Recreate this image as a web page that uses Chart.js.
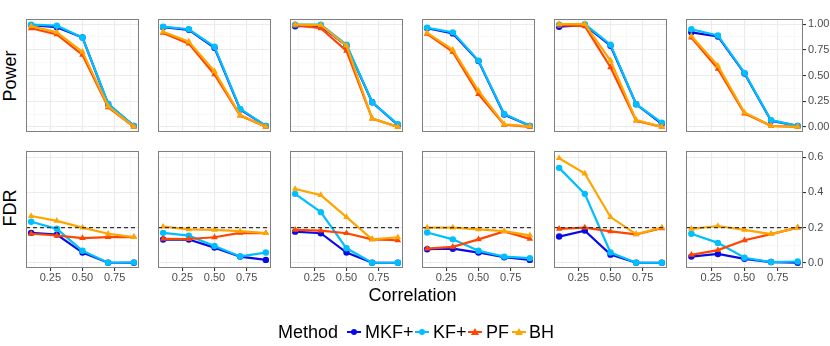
<!DOCTYPE html>
<html>
<head>
<meta charset="utf-8">
<script src="https://cdn.jsdelivr.net/npm/chart.js@4/dist/chart.umd.min.js"></script>
<style>
  body { margin: 0; background: #fff; font-family: "Liberation Sans", Arial, sans-serif; }
  #wrap { position: relative; width: 830px; height: 346px; overflow: hidden; background: #fff; }
  #wrap canvas { position: absolute; }
  .txt { position: absolute; color: #000; font-size: 18px; line-height: 20px; white-space: nowrap; }
  .key { position: absolute; width: 14px; height: 20px; }
  .key .ln { position: absolute; left: 0; top: 9px; width: 14px; height: 2px; }
  .key .dot { position: absolute; left: 4px; top: 7px; width: 6px; height: 6px; border-radius: 50%; }
  .key .tri { position: absolute; left: 3px; top: 6px; width: 0; height: 0;
              border-left: 4px solid transparent; border-right: 4px solid transparent; border-bottom: 7px solid; }
</style>
</head>
<body>
<div id="wrap"></div>
<script>
// x values (correlation) shared by all panels
const corr = [0.1, 0.3, 0.5, 0.7, 0.9];
const methods = ['MKF+', 'KF+', 'PF', 'BH'];
const methodColors = ['#0A0AE6', '#00BFFF', '#FF4500', '#FFA500'];
const methodShapes = ['circle', 'circle', 'triangle', 'triangle'];

// Power, one row per panel (6 panels), one value per correlation
const powerMKF = [
  [0.99, 0.97, 0.87, 0.22, 0.01],
  [0.97, 0.945, 0.77, 0.17, 0.01],
  [0.98, 0.98, 0.79, 0.24, 0.02],
  [0.96, 0.91, 0.64, 0.12, 0.01],
  [0.975, 0.99, 0.79, 0.22, 0.03],
  [0.92, 0.88, 0.52, 0.06, 0.01]
];
const powerKF = [
  [0.995, 0.985, 0.87, 0.225, 0.01],
  [0.975, 0.95, 0.78, 0.175, 0.01],
  [0.995, 0.995, 0.80, 0.24, 0.025],
  [0.965, 0.92, 0.645, 0.125, 0.01],
  [0.995, 1.0, 0.80, 0.22, 0.04],
  [0.95, 0.89, 0.525, 0.065, 0.01]
];
const powerPF = [
  [0.96, 0.90, 0.70, 0.19, 0.0],
  [0.915, 0.81, 0.51, 0.11, 0.0],
  [0.99, 0.96, 0.74, 0.08, 0.0],
  [0.905, 0.73, 0.32, 0.02, 0.0],
  [0.99, 0.98, 0.58, 0.06, 0.0],
  [0.87, 0.565, 0.13, 0.01, 0.0]
];
const powerBH = [
  [0.98, 0.92, 0.73, 0.20, 0.0],
  [0.925, 0.83, 0.54, 0.115, 0.0],
  [0.995, 0.99, 0.79, 0.08, 0.0],
  [0.915, 0.75, 0.35, 0.025, 0.005],
  [1.0, 1.0, 0.645, 0.065, 0.0],
  [0.885, 0.595, 0.14, 0.01, 0.0]
];

// FDR
const fdrMKF = [
  [0.17, 0.16, 0.058, 0.0, 0.0],
  [0.132, 0.132, 0.086, 0.035, 0.016],
  [0.177, 0.168, 0.058, 0.0, 0.0],
  [0.077, 0.08, 0.058, 0.031, 0.016],
  [0.149, 0.183, 0.046, 0.0, 0.0],
  [0.035, 0.05, 0.022, 0.004, 0.0]
];
const fdrKF = [
  [0.233, 0.193, 0.068, 0.0, 0.002],
  [0.17, 0.154, 0.095, 0.036, 0.058],
  [0.392, 0.288, 0.082, 0.0, 0.0],
  [0.172, 0.133, 0.068, 0.035, 0.026],
  [0.54, 0.392, 0.058, 0.0, 0.0],
  [0.165, 0.113, 0.028, 0.004, 0.007]
];
const fdrPF = [
  [0.165, 0.155, 0.14, 0.146, 0.146],
  [0.136, 0.135, 0.145, 0.17, 0.168],
  [0.187, 0.183, 0.168, 0.133, 0.128],
  [0.08, 0.09, 0.133, 0.178, 0.136],
  [0.193, 0.20, 0.178, 0.161, 0.196],
  [0.045, 0.072, 0.128, 0.163, 0.20]
];
const fdrBH = [
  [0.266, 0.238, 0.20, 0.165, 0.146],
  [0.205, 0.19, 0.187, 0.18, 0.168],
  [0.42, 0.385, 0.26, 0.133, 0.145],
  [0.20, 0.20, 0.19, 0.18, 0.156],
  [0.595, 0.508, 0.26, 0.163, 0.20],
  [0.193, 0.209, 0.187, 0.163, 0.20]
];
const fdrTarget = 0.2;

// axis breaks
const xMajor = [0.25, 0.5, 0.75];
const xMinor = [0.125, 0.375, 0.625, 0.875];
const powerMajor = [0, 0.25, 0.5, 0.75, 1];
const powerMinor = [0.125, 0.375, 0.625, 0.875];
const fdrMajor = [0, 0.2, 0.4, 0.6];
const fdrMinor = [0.1, 0.3, 0.5];

// layout of the 2x6 facet grid
const colLeft = [22, 154, 286, 418, 550, 682];
const rowTop = [15, 147];
const panelSize = 121;
const xAxisH = 20;
const yAxisW = 30;
const FONT = '"Liberation Sans", Arial, sans-serif';

const wrap = document.getElementById('wrap');

const panelFrame = {
  id: 'panelFrame',
  afterDraw(chart) {
    const { ctx, chartArea: a } = chart;
    ctx.save();
    ctx.strokeStyle = '#7F7F7F';
    ctx.lineWidth = 1;
    ctx.strokeRect(a.left + 0.5, a.top + 0.5, a.width - 1, a.height - 1);
    ctx.restore();
  }
};

function gridOpts(major, showTicks) {
  const isMajor = v => major.includes(v);
  return {
    color: c => isMajor(c.tick.value) ? '#EBEBEB' : '#F4F4F4',
    lineWidth: c => isMajor(c.tick.value) ? 1.1 : 0.6,
    drawTicks: showTicks,
    tickLength: 3,
    tickColor: c => isMajor(c.tick.value) ? '#333333' : 'rgba(0,0,0,0)'
  };
}

function makePanel(row, col) {
  const bottom = row === 1;
  const right = col === 5;
  const canvas = document.createElement('canvas');
  canvas.width = panelSize + (right ? yAxisW : 0);
  canvas.height = panelSize + (bottom ? xAxisH : 0);
  canvas.style.left = colLeft[col] + 'px';
  canvas.style.top = rowTop[row] + 'px';
  wrap.appendChild(canvas);

  const series = row === 0
    ? [powerMKF, powerKF, powerPF, powerBH]
    : [fdrMKF, fdrKF, fdrPF, fdrBH];
  const yMajor = row === 0 ? powerMajor : fdrMajor;
  const yMinor = row === 0 ? powerMinor : fdrMinor;
  const yAll = [...yMajor, ...yMinor].sort((a, b) => a - b);
  const xAll = [...xMajor, ...xMinor].sort((a, b) => a - b);

  const datasets = methods.map((m, k) => ({
    label: m,
    data: corr.map((x, i) => ({ x: x, y: series[k][col][i] })),
    borderColor: methodColors[k],
    backgroundColor: methodColors[k],
    borderWidth: 2.2,
    pointStyle: methodShapes[k],
    pointRadius: methodShapes[k] === 'circle' ? 3.2 : 3.8,
    pointBorderWidth: 0,
    tension: 0,
    order: 4 - k
  }));
  if (row === 1) {
    datasets.push({
      label: 'target',
      data: [{ x: 0.06, y: fdrTarget }, { x: 0.94, y: fdrTarget }],
      borderColor: '#333333',
      borderWidth: 1.3,
      borderDash: [4, 3],
      pointRadius: 0,
      order: 0
    });
  }

  new Chart(canvas, {
    type: 'line',
    data: { datasets },
    options: {
      responsive: false,
      animation: false,
      events: [],
      layout: { padding: 0 },
      plugins: { legend: { display: false }, tooltip: { enabled: false } },
      scales: {
        x: {
          type: 'linear',
          min: 0.06,
          max: 0.94,
          afterBuildTicks: s => { s.ticks = xAll.map(v => ({ value: v })); },
          afterFit: s => {
            s.height = bottom ? xAxisH : 0;
            s.paddingLeft = 0; s.paddingRight = 0;
          },
          border: { display: false },
          grid: gridOpts(xMajor, bottom),
          ticks: {
            display: bottom,
            autoSkip: false,
            maxRotation: 0,
            minRotation: 0,
            padding: 0,
            color: '#4D4D4D',
            font: { size: 11, family: FONT },
            callback: v => xMajor.includes(v) ? v.toFixed(2) : ''
          }
        },
        y: {
          type: 'linear',
          position: 'right',
          min: row === 0 ? -0.05 : -0.03,
          max: row === 0 ? 1.05 : 0.636,
          afterBuildTicks: s => { s.ticks = yAll.map(v => ({ value: v })); },
          afterFit: s => {
            s.width = right ? yAxisW : 0;
            s.paddingTop = 0; s.paddingBottom = 0;
          },
          border: { display: false },
          grid: gridOpts(yMajor, right),
          ticks: {
            display: right,
            autoSkip: false,
            padding: 2,
            color: '#4D4D4D',
            font: { size: 11, family: FONT },
            callback: v => yMajor.includes(v) ? v.toFixed(row === 0 ? 2 : 1) : ''
          }
        }
      }
    },
    plugins: [panelFrame]
  });
}

for (let r = 0; r < 2; r++) {
  for (let c = 0; c < 6; c++) makePanel(r, c);
}

// titles and legend as plain text
function addText(text, left, top, extra) {
  const d = document.createElement('div');
  d.className = 'txt';
  d.textContent = text;
  d.style.left = left + 'px';
  d.style.top = top + 'px';
  if (extra) Object.assign(d.style, extra);
  wrap.appendChild(d);
  return d;
}

addText('Power', 10, 75.5, { transform: 'translate(-50%, -50%) rotate(-90deg)' });
addText('FDR', 10, 207.5, { transform: 'translate(-50%, -50%) rotate(-90deg)' });
addText('Correlation', 412.5, 295, { transform: 'translate(-50%, -50%)' });

addText('Method', 278, 322);
const keyLeft = [347, 415, 468, 512];
const labelLeft = [365, 433, 486, 529];
methods.forEach((m, k) => {
  const key = document.createElement('div');
  key.className = 'key';
  key.style.left = keyLeft[k] + 'px';
  key.style.top = '322px';
  const ln = document.createElement('div');
  ln.className = 'ln';
  ln.style.background = methodColors[k];
  key.appendChild(ln);
  const pt = document.createElement('div');
  if (methodShapes[k] === 'circle') {
    pt.className = 'dot';
    pt.style.background = methodColors[k];
  } else {
    pt.className = 'tri';
    pt.style.borderBottomColor = methodColors[k];
  }
  key.appendChild(pt);
  wrap.appendChild(key);
  addText(m, labelLeft[k], 322);
});
</script>
</body>
</html>
